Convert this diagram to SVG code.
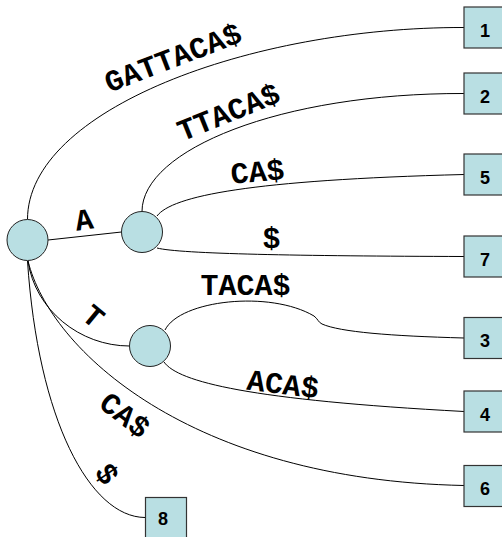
<svg xmlns="http://www.w3.org/2000/svg" width="502" height="537" viewBox="0 0 502 537">
  <style>
    .edge { fill: none; stroke: #000; stroke-width: 1; }
    .node { fill: #b9dfe3; stroke: #222; stroke-width: 1; }
    .leaf { fill: #b9dfe3; stroke: #333; stroke-width: 1.2; }
    .num { font-family: "Liberation Sans", Arial, sans-serif; font-weight: bold; font-size: 18px; text-anchor: middle; fill: #000; }
    .lbl { font-family: "Liberation Mono", "Courier New", monospace; font-weight: bold; font-size: 30px; text-anchor: middle; fill: #000; }
  </style>
  <rect width="502" height="537" fill="#fff"/>

  <!-- tree edges -->
  <g id="edges">
    <path class="edge" d="M27.5,219.5 C27.5,110 250,27 464,27.5"/>
    <path class="edge" d="M142,211.5 C142,150 280,93 464,93.5"/>
    <path class="edge" d="M157,216 C172,196 250,180 464,174.5"/>
    <path class="edge" d="M157,248 C180,254 300,256 464,256.5"/>
    <path class="edge" d="M48,240 L121.5,232"/>
    <path class="edge" d="M165,330 C180,300 270,290 314,316 C318,319 318,322 322,324 C340,332 390,336 464,338"/>
    <path class="edge" d="M28,261 C35,310 80,346 129.5,346"/>
    <path class="edge" d="M164,362 C178,382 250,400 464,411.5"/>
    <path class="edge" d="M28,261 C50,350 190,480 464,485.5"/>
    <path class="edge" d="M27.5,261 C38,420 90,517 145,517.5"/>
  </g>

  <!-- edge labels -->
  <g id="labels">
    <text class="lbl" transform="translate(173,57.5) rotate(-21)" y="10">GATTACA$</text>
    <text class="lbl" transform="translate(228.5,112) rotate(-22)" y="10">TTACA$</text>
    <text class="lbl" transform="translate(257.5,171.5) rotate(-5)" y="10">CA$</text>
    <text class="lbl" transform="translate(84,219.5) rotate(-8)" y="10">A</text>
    <text class="lbl" transform="translate(271.5,238)" y="10">$</text>
    <text class="lbl" transform="translate(245.5,285)" y="10">TACA$</text>
    <text class="lbl" transform="translate(93.5,316) rotate(40)" y="10">T</text>
    <text class="lbl" transform="translate(283,384) rotate(7)" y="10">ACA$</text>
    <text class="lbl" transform="translate(125,415) rotate(38)" y="10">CA$</text>
    <text class="lbl" transform="translate(107,474) rotate(55)" y="10">$</text>
  </g>

  <!-- internal nodes -->
  <g id="root"><circle class="node" cx="27.5" cy="240" r="20.5"/></g>
  <g id="nodeA"><circle class="node" cx="142" cy="232" r="20.5"/></g>
  <g id="nodeT"><circle class="node" cx="150" cy="346" r="20.5"/></g>

  <!-- leaves -->
  <g id="leaf1"><rect class="leaf" x="464" y="7" width="42" height="41"/><text class="num" x="485" y="36.5">1</text></g>
  <g id="leaf2"><rect class="leaf" x="464" y="73" width="42" height="41"/><text class="num" x="485" y="102.5">2</text></g>
  <g id="leaf5"><rect class="leaf" x="464" y="154" width="42" height="41"/><text class="num" x="485" y="183.5">5</text></g>
  <g id="leaf7"><rect class="leaf" x="464" y="236" width="42" height="41"/><text class="num" x="485" y="265.5">7</text></g>
  <g id="leaf3"><rect class="leaf" x="464" y="317.5" width="42" height="41"/><text class="num" x="485" y="347">3</text></g>
  <g id="leaf4"><rect class="leaf" x="464" y="391" width="42" height="41"/><text class="num" x="485" y="420.5">4</text></g>
  <g id="leaf6"><rect class="leaf" x="464" y="465.5" width="42" height="41"/><text class="num" x="485" y="495">6</text></g>
  <g id="leaf8"><rect class="leaf" x="145.5" y="497.5" width="41" height="41"/><text class="num" x="163" y="525">8</text></g>
</svg>
